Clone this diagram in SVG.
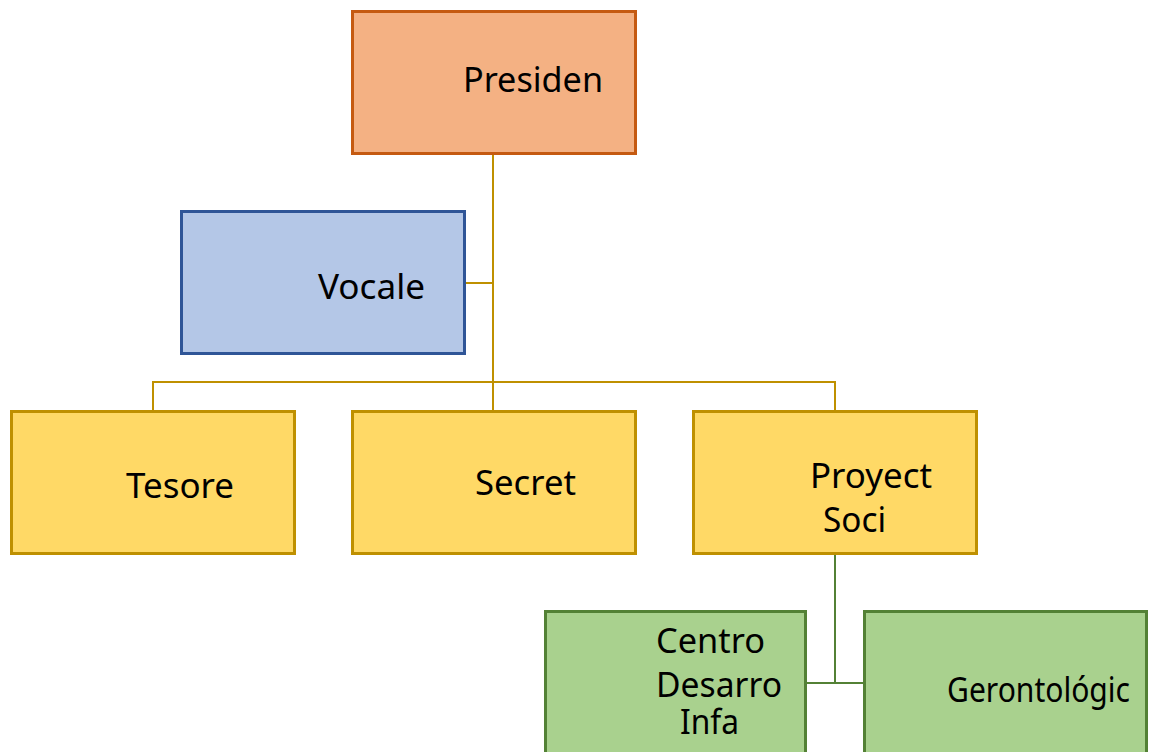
<svg xmlns="http://www.w3.org/2000/svg" width="1162" height="752" viewBox="0 0 1162 752">
<style>
  .t { font-family: "Noto Sans", "Open Sans", "Liberation Sans", sans-serif; font-size: 34px; fill: #000; text-anchor: middle; }
  .orange { fill: #F4B183; stroke: #C55A11; stroke-width: 3; }
  .blue { fill: #B4C7E7; stroke: #2F5597; stroke-width: 3; }
  .gold { fill: #FFD966; stroke: #BF9000; stroke-width: 3; }
  .green { fill: #A9D18E; stroke: #538135; stroke-width: 3; }
  .cg { fill: none; stroke: #BF9000; stroke-width: 2; }
  .cn { fill: none; stroke: #538135; stroke-width: 2; }
</style>
<rect width="1162" height="752" fill="#fff"/>
<g id="connectors">
  <path class="cg" d="M493 154 V411"/>
  <path class="cg" d="M465 283 H493"/>
  <path class="cg" d="M153 411 V382 H835 V411"/>
  <path class="cn" d="M835 553 V683"/>
  <path class="cn" d="M806 683 H864"/>
</g>
<g id="presiden">
  <rect class="orange" x="352.5" y="11.5" width="283" height="142"/>
  <text class="t" x="533" y="92" textLength="140" lengthAdjust="spacingAndGlyphs">Presiden</text>
</g>
<g id="vocale">
  <rect class="blue" x="181.5" y="211.5" width="283" height="142"/>
  <text class="t" x="371.5" y="299" textLength="107" lengthAdjust="spacingAndGlyphs">Vocale</text>
</g>
<g id="tesore">
  <rect class="gold" x="11.5" y="411.5" width="283" height="142"/>
  <text class="t" x="180" y="498" textLength="108" lengthAdjust="spacingAndGlyphs">Tesore</text>
</g>
<g id="secret">
  <rect class="gold" x="352.5" y="411.5" width="283" height="142"/>
  <text class="t" x="525.5" y="495" textLength="101" lengthAdjust="spacingAndGlyphs">Secret</text>
</g>
<g id="proyect">
  <rect class="gold" x="693.5" y="411.5" width="283" height="142"/>
  <text class="t" x="871" y="488" textLength="122" lengthAdjust="spacingAndGlyphs">Proyect</text>
  <text class="t" x="854.5" y="532" textLength="63" lengthAdjust="spacingAndGlyphs">Soci</text>
</g>
<g id="centro">
  <rect class="green" x="545.5" y="611.5" width="260" height="150"/>
  <text class="t" x="710.5" y="653" textLength="109" lengthAdjust="spacingAndGlyphs">Centro</text>
  <text class="t" x="719" y="697" textLength="126" lengthAdjust="spacingAndGlyphs">Desarro</text>
  <text class="t" x="709.5" y="734" textLength="59" lengthAdjust="spacingAndGlyphs">Infa</text>
</g>
<g id="gerontologic">
  <rect class="green" x="864.5" y="611.5" width="282" height="150"/>
  <text class="t" x="1038.5" y="702" textLength="183" lengthAdjust="spacingAndGlyphs">Gerontológic</text>
</g>
</svg>
